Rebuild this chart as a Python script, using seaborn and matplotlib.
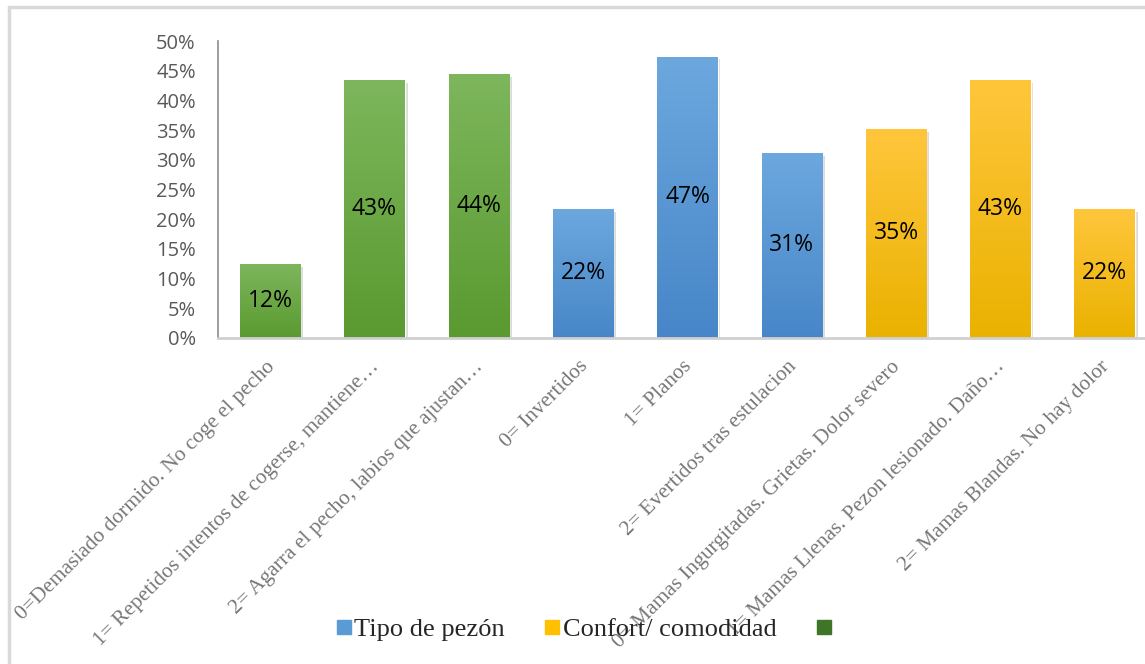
import numpy as np
import pandas as pd
import matplotlib
matplotlib.use("Agg")
import matplotlib.pyplot as plt
import seaborn as sns
from matplotlib.lines import Line2D
from matplotlib.colors import LinearSegmentedColormap
import matplotlib.patheffects as pe
import matplotlib.transforms as mtransforms

categories = [
    "0=Demasiado dormido. No coge el pecho",
    "1= Repetidos intentos de cogerse, mantiene…",
    "2= Agarra el pecho, labios que ajustan…",
    "0= Invertidos",
    "1= Planos",
    "2= Evertidos tras estulacion",
    "0= Mamas Ingurgitadas. Grietas. Dolor severo",
    "1= Mamas Llenas. Pezon lesionado. Daño…",
    "2= Mamas Blandas. No hay dolor",
]
values = [0.124, 0.434, 0.444, 0.217, 0.474, 0.311, 0.352, 0.434, 0.217]
groups = ["Agarre", "Agarre", "Agarre",
          "Tipo de pezón", "Tipo de pezón", "Tipo de pezón",
          "Confort/ comodidad", "Confort/ comodidad", "Confort/ comodidad"]
legend_labels = ["Tipo de pezón", "Confort/ comodidad", ""]
yticks = [0, 0.05, 0.10, 0.15, 0.20, 0.25, 0.30, 0.35, 0.40, 0.45, 0.50]

palette = {"Agarre": "#6AA84A", "Tipo de pezón": "#5A98D4", "Confort/ comodidad": "#F8BD16"}
grad = {"Agarre": ("#7DB65C", "#5A9A30"),
        "Tipo de pezón": ("#6CA8DE", "#4786C8"),
        "Confort/ comodidad": ("#FFC63C", "#EAB200")}
legend_colors = ["#5B9BD5", "#FFC000", "#3E7527"]

df = pd.DataFrame({"cat": categories, "val": values, "grp": groups})

sns.set_theme(style="white")
fig = plt.figure(figsize=(11.45, 6.64), dpi=100)
ax = fig.add_axes([0.1904, 0.4914, 0.82, 0.4466])

sns.barplot(data=df, x="cat", y="val", hue="grp", palette=palette, dodge=False,
            width=0.58, legend=False, ax=ax, order=categories)

ax.set_xlim(-0.5, 8.5)
ax.set_ylim(0, 0.50)

for p in ax.patches:
    x0 = p.get_x(); w = p.get_width(); h = p.get_height()
    if h <= 0:
        continue
    idx = int(round(x0 + w / 2))
    g = groups[idx]
    p.set_path_effects([pe.SimplePatchShadow(offset=(2, -2), shadow_rgbFace="#999999", alpha=0.35), pe.Normal()])
    cmap = LinearSegmentedColormap.from_list("g", [grad[g][1], grad[g][0]])
    arr = np.linspace(0, 1, 100).reshape(-1, 1)
    im = ax.imshow(arr, cmap=cmap, aspect="auto", origin="lower",
                   extent=[x0, x0 + w, 0, h], zorder=p.get_zorder() + 0.1)
    im.set_clip_path(p)
    ax.text(x0 + w / 2, h / 2, f"{round(h * 100):d}%", ha="center", va="center",
            fontsize=16.5, color="black", family="Open Sans", zorder=5)

ax.set_xlim(-0.5, 8.5)
ax.set_ylim(0, 0.50)
ax.set_yticks(yticks)
ax.set_yticklabels([f"{int(round(t * 100))}%" for t in yticks], family="Open Sans",
                   fontsize=14.5, color="#595959")
ax.tick_params(axis="y", length=0, pad=16)
ax.tick_params(axis="x", length=0, pad=6)
ax.set_xticks(range(len(categories)))
ax.set_xticklabels(categories, rotation=45, ha="right", rotation_mode="anchor",
                   family="Liberation Serif", fontsize=15.4, color="#777777")
offset = mtransforms.ScaledTranslation(-5 / 100, -11 / 100, fig.dpi_scale_trans)
for lbl in ax.get_xticklabels():
    lbl.set_transform(lbl.get_transform() + offset)
ax.set_xlabel("")
ax.set_ylabel("")

for s in ["top", "right"]:
    ax.spines[s].set_visible(False)
ax.spines["left"].set_color("#8c8c8c")
ax.spines["left"].set_linewidth(1.2)
ax.spines["bottom"].set_color("#d0d0d0")
ax.spines["bottom"].set_linewidth(2)
ax.grid(False)

handles = [Line2D([0], [0], marker="s", linestyle="none", markersize=10,
                  markerfacecolor=c, markeredgecolor=c) for c in legend_colors]
fig.legend(handles, legend_labels, loc="center", bbox_to_anchor=(0.511, 0.052),
           ncol=3, frameon=False, prop={"family": "Liberation Serif", "size": 19},
           handlelength=0.6, handletextpad=0.1, columnspacing=1.5)

fig.add_artist(Line2D([0.0075, 0.0075], [0, 0.99], transform=fig.transFigure,
                      color="#d9d9d9", linewidth=2.5))
fig.add_artist(Line2D([0.0075, 1.0], [0.99, 0.99], transform=fig.transFigure,
                      color="#d9d9d9", linewidth=2.5))

fig.savefig("out.png", dpi=100)
